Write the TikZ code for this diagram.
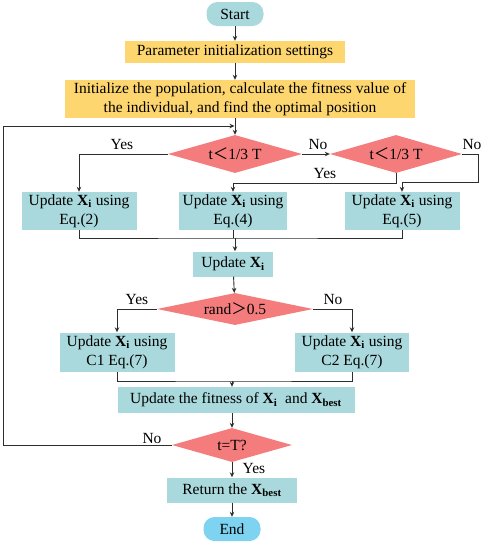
\documentclass[tikz,border=0pt]{standalone}
\usepackage{fontspec}
\setmainfont{Liberation Serif}
\newfontfamily\cjkf{Noto Sans CJK SC}
\usetikzlibrary{shapes.geometric,arrows.meta}
\definecolor{boxc}{RGB}{169,217,220}
\definecolor{yelc}{RGB}{253,214,112}
\definecolor{diac}{RGB}{244,124,124}
\definecolor{endc}{RGB}{125,211,240}
\definecolor{linec}{RGB}{45,45,45}
\newcommand{\myXi}{\textbf{X}\textsubscript{\textbf{i}}}
\newcommand{\myXb}{\textbf{X}\textsubscript{\textbf{best}}}
\begin{document}
\begin{tikzpicture}[x=1pt,y=-1pt,
  every node/.style={font=\fontsize{15.5}{19}\selectfont, inner sep=0pt, align=center},
  proc/.style={rectangle, fill=boxc, minimum width=#1},
  yel/.style={rectangle, fill=yelc, minimum width=#1},
  dec/.style={diamond, aspect=3.5, fill=diac, inner sep=0pt},
  term/.style={rectangle, rounded corners=11pt, minimum width=57pt, minimum height=24pt},
  lbl/.style={font=\fontsize{15.5}{19}\selectfont},
  arr/.style={draw=linec, line width=0.9pt, -{Stealth[length=5pt,width=4.5pt]}},
  ln/.style={draw=linec, line width=0.9pt}]
\useasboundingbox (0,0) rectangle (484,542);

\node[term, fill=boxc] (start) at (235,14) {Start};
\node[yel=220pt, minimum height=22pt] (param) at (235,52) {Parameter initialization settings};
\node[yel=350pt, minimum height=38pt] (init) at (240,99) {Initialize the population, calculate the fitness value of\\the individual, and find the optimal position};

\node[dec, minimum width=134pt, minimum height=38pt] (d1) at (235,154) {t{\cjkf ＜}1/3 T};
\node[dec, minimum width=132pt, minimum height=38pt] (d2) at (396,154) {t{\cjkf ＜}1/3 T};

\node[proc=115pt, minimum height=38pt] (b1) at (79,211) {Update \myXi{} using\\Eq.(2)};
\node[proc=108pt, minimum height=38pt] (b2) at (233,211) {Update \myXi{} using\\Eq.(4)};
\node[proc=115pt, minimum height=38pt] (b3) at (402,211) {Update \myXi{} using\\Eq.(5)};

\node[proc=80pt, minimum height=25pt] (upd) at (233,264) {Update \myXi};
\node[dec, minimum width=156pt, minimum height=32pt] (d3) at (235,309) {rand{\cjkf ＞}0.5};

\node[proc=115pt, minimum height=39pt] (b4) at (117,352) {Update \myXi{} using\\C1 Eq.(7)};
\node[proc=114pt, minimum height=39pt] (b5) at (352,352) {Update \myXi{} using\\C2 Eq.(7)};

\node[proc=237pt, minimum height=26pt] (fit) at (236,400) {Update the fitness of \myXi{}\ \ and \myXb};
\node[dec, minimum width=120pt, minimum height=34pt] (d4) at (232,445) {t=T?};
\node[proc=130pt, minimum height=25pt] (ret) at (232,490) {Return the \myXb};
\node[term, fill=endc] (end) at (232,529) {End};

\coordinate (m1) at (235,238);
\coordinate (m2) at (232,381);
\coordinate (loopend) at (234.5,126);

\draw[arr] (start) -- (param);
\draw[arr] (param) -- (param |- init.north);
\draw[arr] (d1.north |- init.south) -- (d1.north);
\draw[arr] (d1.east) -- (d2.west);
\draw[arr] (d1.west) -| (b1.north);
\draw[arr] (d2.south) -- ++(0,10) -| (b2.north);
\draw[arr] (d2.east) -- (478,154) -- (478,182) -| (b3.north);
\draw[ln] (b1.south) |- (m1) -| (b3.south);
\draw[ln] (b2.south) -- (b2.south |- m1);
\draw[arr] (m1) -- (m1 |- upd.north);
\draw[arr] (upd) -- (d3);
\draw[arr] (d3.west) -| (b4.north);
\draw[arr] (d3.east) -| (b5.north);
\draw[ln] (b4.south) |- (m2) -| (b5.south);
\draw[arr] (m2) -- (m2 |- fit.north);
\draw[arr] (m2 |- fit.south) -- (d4.north);
\draw[arr] (d4.south) -- (ret.north);
\draw[arr] (ret) -- (end);
\draw[arr] (d4.west) -- (3,445) |- (loopend);

\node[lbl] at (122,144) {Yes};
\node[lbl] at (318,144) {No};
\node[lbl] at (472,144) {No};
\node[lbl] at (325,173) {Yes};
\node[lbl] at (137,299) {Yes};
\node[lbl] at (333,299) {No};
\node[lbl] at (152,438) {No};
\node[lbl] at (254,468) {Yes};
\end{tikzpicture}
\end{document}
